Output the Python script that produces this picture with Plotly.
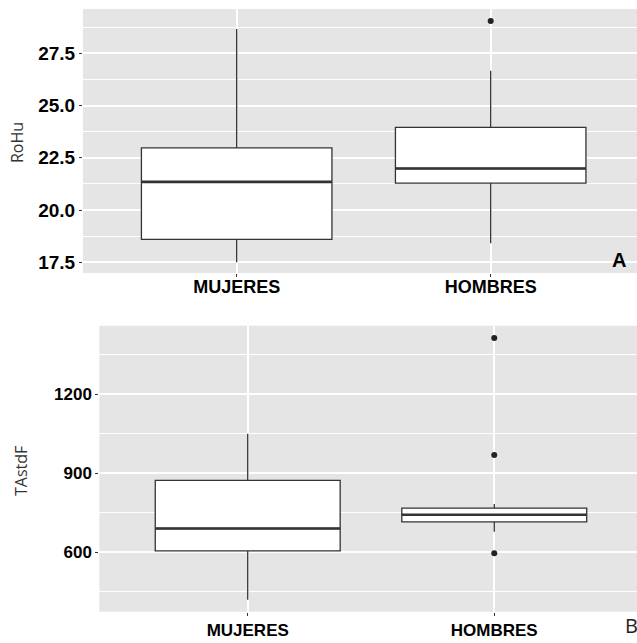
import plotly.graph_objects as go

categories = ["MUJERES", "HOMBRES"]

# Panel A: RoHu
rohu_q1 = [18.6, 21.29]
rohu_median = [21.35, 21.99]
rohu_q3 = [22.98, 23.96]
rohu_low = [17.5, 18.41]
rohu_high = [28.66, 26.67]
rohu_out_x = ["HOMBRES"]
rohu_out_y = [29.04]

# Panel B: TAstdF
ta_q1 = [605, 715]
ta_median = [690, 742]
ta_q3 = [873, 767]
ta_low = [419, 678]
ta_high = [1050, 783]
ta_out_x = ["HOMBRES", "HOMBRES", "HOMBRES"]
ta_out_y = [1413, 969, 596]

BOX_W = 0.75
LINE = "#333333"
BG = "#E5E5E5"

fig = go.Figure()

def add_panel(xa, ya, q1, med, q3, lo, hi, ox, oy):
    for i, c in enumerate(categories):
        fig.add_trace(go.Box(
            x=[c], q1=[q1[i]], median=[med[i]], q3=[q3[i]],
            lowerfence=[lo[i]], upperfence=[hi[i]],
            width=BOX_W, whiskerwidth=0, fillcolor="white",
            line=dict(color=LINE, width=1.3), boxpoints=False,
            xaxis=xa, yaxis=ya, showlegend=False, hoverinfo="skip"))
        fig.add_shape(type="line", xref=xa, yref=ya,
                      x0=i - BOX_W / 2, x1=i + BOX_W / 2, y0=med[i], y1=med[i],
                      line=dict(color=LINE, width=2.6))
    fig.add_trace(go.Scatter(x=ox, y=oy, mode="markers",
                             marker=dict(color="#222222", size=6),
                             xaxis=xa, yaxis=ya, showlegend=False, hoverinfo="skip"))

add_panel("x", "y", rohu_q1, rohu_median, rohu_q3, rohu_low, rohu_high, rohu_out_x, rohu_out_y)
add_panel("x2", "y2", ta_q1, ta_median, ta_q3, ta_low, ta_high, ta_out_x, ta_out_y)

tickfont_a = dict(family="Liberation Sans", size=19, color="black")
tickfont_b = dict(family="Liberation Sans", size=17, color="black")

common_x = dict(type="category", categoryorder="array", categoryarray=categories,
                showgrid=True, gridcolor="white", gridwidth=2, ticks="outside",
                ticklen=3, tickcolor=LINE, zeroline=False, showline=False)
common_y = dict(showgrid=True, gridcolor="white", gridwidth=2, ticks="outside",
                ticklen=3, tickcolor=LINE, zeroline=False, showline=False)

fig.update_layout(
    width=637, height=643, margin=dict(l=0, r=0, t=0, b=0, autoexpand=False),
    paper_bgcolor="white", plot_bgcolor=BG,
    xaxis=dict(domain=[83 / 637, 1.0], anchor="y", range=[-0.605, 1.576],
               tickfont=dict(family="Liberation Sans", size=18, color="black"),
               tickprefix="<b>", ticksuffix="</b>", ticklabelstandoff=-6, **common_x),
    yaxis=dict(domain=[1 - 273 / 643, 1 - 9 / 643], anchor="x", range=[16.99, 29.62],
               tick0=0, dtick=2.5, tickformat=".1f", tickfont=tickfont_a,
               tickprefix="<b>", ticksuffix="</b>",
               minor=dict(showgrid=True, gridcolor="white", gridwidth=1, tick0=0, dtick=1.25, ticks=""),
               **common_y),
    xaxis2=dict(domain=[99.3 / 637, 1.0], anchor="y2", range=[-0.602, 1.579],
                tickfont=dict(family="Liberation Sans", size=17, color="black"),
                tickprefix="<b>", ticksuffix="</b>", **common_x),
    yaxis2=dict(domain=[1 - 611.7 / 643, 1 - 325.7 / 643], anchor="x2", range=[374, 1460],
                tick0=0, dtick=300, tickformat="d", tickfont=tickfont_b,
                tickprefix="<b>", ticksuffix="</b>",
                minor=dict(showgrid=True, gridcolor="white", gridwidth=1, tick0=0, dtick=150, ticks=""),
                **common_y),
)

fig.add_annotation(text="RoHu", xref="paper", yref="paper", x=17 / 637, y=1 - 143 / 643,
                   xanchor="center", yanchor="middle", textangle=-90, showarrow=False,
                   font=dict(family="Open Sans", size=16, color="#333333"))
fig.add_annotation(text="TAstdF", xref="paper", yref="paper", x=21 / 637, y=1 - 471 / 643,
                   xanchor="center", yanchor="middle", textangle=-90, showarrow=False,
                   font=dict(family="Open Sans", size=16, color="#333333"))
fig.add_annotation(text="<b>A</b>", xref="paper", yref="paper", x=619 / 637, y=1 - 260 / 643,
                   xanchor="center", yanchor="middle", showarrow=False,
                   font=dict(family="Liberation Sans", size=20, color="black"))
fig.add_annotation(text="B", xref="paper", yref="paper", x=631 / 637, y=1 - 625 / 643,
                   xanchor="center", yanchor="middle", showarrow=False, borderpad=0,
                   font=dict(family="Open Sans", size=20, color="#222222"))

fig.write_html("out.html", config={"displayModeBar": False},
               post_script="document.body.style.margin='0';document.body.style.padding='0';document.body.style.overflow='hidden';")
